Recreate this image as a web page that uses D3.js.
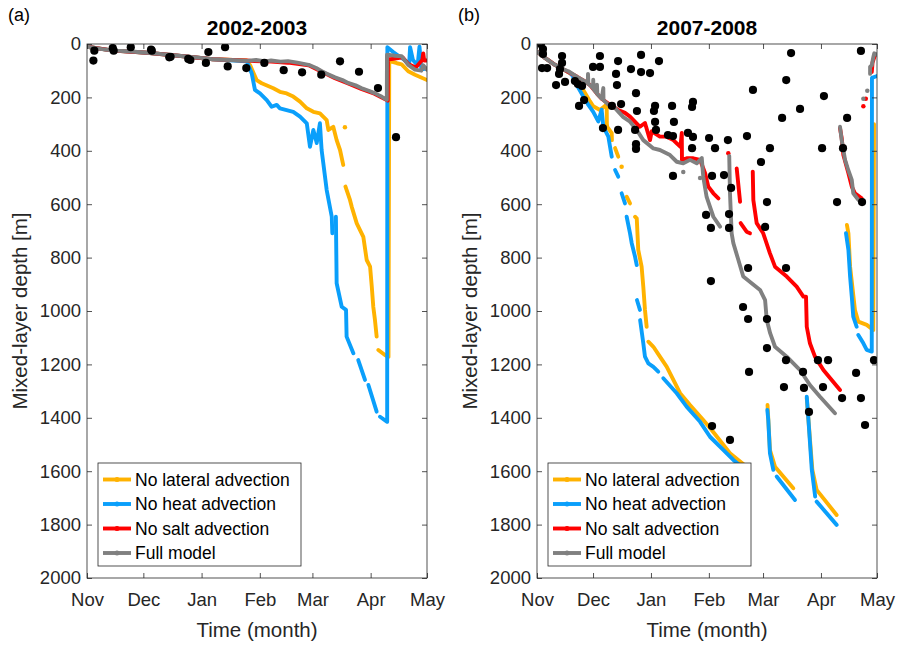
<!DOCTYPE html>
<html>
<head>
<meta charset="utf-8">
<script src="https://cdn.jsdelivr.net/npm/d3@7"></script>
<style>
  body { margin: 0; background: #fff; }
  svg { display: block; font-family: "Liberation Sans", Arial, Helvetica, sans-serif; }
</style>
</head>
<body>
<svg id="chart" width="899" height="645"></svg>
<script>
// ---- shared labels ----
const monthLabels = ["Nov", "Dec", "Jan", "Feb", "Mar", "Apr", "May"];
const depthTicks = [0, 200, 400, 600, 800, 1000, 1200, 1400, 1600, 1800, 2000];
const seriesNames = ["No lateral advection", "No heat advection", "No salt advection", "Full model"];
const seriesColors = ["#FFB200", "#0A9FFB", "#FF0000", "#808080"];
const panelTitles = ["2002-2003", "2007-2008"];
const panelTags = ["(a)", "(b)"];

// ---- 2002-2003: [days since 1 Nov, mixed-layer depth in m]; null = gap ----
const noLateralA = [
  [0,10],[14,25],[32,33],[50,45],[67,57],[85,62],[86.8,79],[90.3,135],[93,147],[99.2,166],[102.7,179],
  [106.3,185],[109.8,197],[113.4,216],[117,241],[120.5,254],[124,260],[127.6,285],[128.5,322],[131.1,310],
  [132.9,360],[134.7,397],[136.4,453],
  null,[137.3,312],
  null,[137.6,534],[140,584],[140.9,609],[143.6,672],[147.1,722],[148.9,809],[150.7,834],[151.6,909],
  [152.4,984],[153.3,1034],[154.2,1096],
  null,[155.1,1146],[158.6,1165],[160.5,1172],[160.9,60],[162.2,66],[165,72],[167.5,76],[171,102],
  [174.6,115],[181,135]
];
const noHeatA = [
  [0,10],[14,25],[32,33],[50,45],[67,57],[85,65],[87.7,110],[89.4,172],[92.1,185],[95.7,210],[98.3,235],
  [101,228],[102.7,241],[109.8,254],[113.4,272],[117,297],[118.7,385],[120.5,322],[122.3,371],[124,297],
  [124.9,397],[125.8,447],[127.6,547],[130.3,647],[130.6,709],
  null,[132.5,647],[132.9,896],[135.6,984],[137.9,996],[138.2,1096],[141.8,1158],
  null,[144.4,1184],[148,1258],
  null,[149.8,1277],[154.2,1377],
  null,[156,1396],[159.8,1415],[159.9,12],[163,30],[166,45],[169,60],[171.5,75],[172,12],[173.5,60],
  [176,80],[177,10],[178,95],[181,92]
];
const noSaltA = [
  [0,10],[14,25],[32,33],[50,45],[67,57],[85,62],[89,64],[98,66],[107,70],[118,80],[125,104],[132,128],
  [139,148],[146,168],[153,186],[160.1,212],[160.2,58],[164,55],[168,50],[171,75],[175,88],[178.5,60],
  [179,35],[179.5,62],[181,62]
];
const fullA = [
  [0,10],[7,18],[14,25],[22,27],[32,33],[40,38],[50,45],[58,50],[67,57],[76,60],[85,63],[90,60],[95,65],
  [98,62],[103,66],[107,64],[112,70],[118,78],[122,90],[125,102],[128,112],[132,125],[136,135],[139,146],
  [143,155],[146,165],[150,175],[153,184],[157,198],[159.6,209],[159.7,40],[164,44],[167.5,46],[171,78],
  [174.6,96],[178,100],[179,80],[181,96]
];
const obsA = [
  [3.9,25],[3.4,62],[13.7,15],[14.2,25],[23.3,12],[34.1,21],[34.5,25],[43.8,50],[44.5,48],[53.9,56],
  [55,60],[63.3,71],[64.6,30],[73.5,12],[74.9,84],[84.8,90],[94.4,71],[104.7,98],[114.5,106],[124.7,115],
  [134.7,65],[144.8,104],[154.9,165],[164.5,349]
];

// ---- 2007-2008 ----
const noLateralB = [
  [0,28],[4.3,52],[9.6,78],[14.1,95],[19,115],[22,140],[25,175],[28.4,215],[30.1,233],[33.7,247],
  [37.3,227],[37.4,300],[37.6,310],[40,334],[40.1,360],
  null,[41.8,390],[43.5,422],
  null,[45.3,460],
  null,[48,572],[49.8,597],
  null,[52.5,647],[53.4,653],[54.2,771],[56,834],[56.9,909],[57.8,996],[58.7,1059],
  null,[59.6,1115],[62.3,1134],[65.8,1171],[69.4,1208],[73,1258],[76.6,1308],[81.9,1352],[89,1408],
  [93.5,1446],[103.3,1533],[113,1588],
  null,[123.4,1352],[124.7,1521],[127.4,1583],[137.2,1664],
  null,[144.4,1326],[147.4,1595],[149.7,1670],[160.4,1764],
  null,[165.9,678],[166.7,709],[167.6,834],[170.2,996],[172,1040],[176.5,1052],[180,1071],[180.4,300]
];
const noHeatB = [
  [0,28],[4.3,52],[9.6,78],[14.1,95],[17.7,109],[19,118],[21.3,154],[24.8,197],[27.5,228],[30.1,254],
  [32.8,290],[34.6,246],[35.5,310],[38.2,347],[39.1,385],[40,422],
  null,[41.8,472],[43.5,497],
  null,[45.3,559],[47.1,597],
  null,[48,647],[49.8,709],[50.7,746],[52.5,797],[53.4,828],
  null,[53.5,959],[55.1,996],
  null,[55.2,1034],[56.9,1121],[57.8,1171],[59.6,1196],[62.3,1209],[64.9,1227],
  null,[67.6,1252],[74.8,1308],[80.1,1358],[87.3,1415],[92.6,1471],[99.7,1520],[105.1,1558],[109.7,1584],
  null,[123.3,1371],[123.8,1408],[124.7,1533],[126.5,1595],
  null,[128.3,1620],[138.1,1708],
  null,[144.4,1321],[145.3,1408],[147.1,1595],[148.9,1695],
  null,[149.7,1714],[160.4,1801],
  null,[165.4,709],[166.7,771],[167.6,871],[168.5,946],[169.3,1021],[171.1,1059],
  null,[172,1090],[174.7,1121],[176.5,1146],[179.2,1152],[179.3,127],[182,120]
];
const noSaltB = [
  [0,28],[4.3,52],[9.6,78],[14.1,95],[21.3,122],[25.7,140],[28.4,154],[32,185],[34.6,205],[39.1,228],
  [43.5,247],[47.1,258],[49.8,272],[55.1,310],[57.8,296],[60.5,360],[61.4,327],[65.8,347],[69.4,347],
  [73,360],[74.8,372],[76.8,385],[77.5,333],[77.6,434],[80.1,428],[83.7,428],[87.3,434],[90,484],
  [91.7,534],[94.4,559],[97.1,578],
  null,[102.4,409],
  null,[106.9,466],[108.7,591],
  null,[109,671],[112.2,703],[114,709],
  null,[115.5,478],[115.8,584],[117.6,671],[121.1,709],[124.7,784],[127.4,834],[133.7,871],[139,909],
  [142.6,946],[144,946],[144.4,1059],[146.1,1121],[148.8,1171],[153.3,1221],[162.2,1296],
  null,[162.2,315],[163.1,352],[164,416],[166.7,484],[168.5,534],[170.2,559],[173.8,578],
  null,[174.7,233],
  null,[176,205],
  null,[179.2,105],[179.6,70],[181,40]
];
const fullB = [
  [0,28],[4.3,52],[7,66],[9.6,78],[14.1,95],[16.8,102],[21.3,122],[25.7,140],[27.2,148],[27.3,112],
  [27.5,150],[28.4,154],[30,165],[30.1,134],[30.3,170],[32,185],[32.1,152],[32.3,188],[34.6,205],
  [35.5,165],[35.6,210],[38.2,227],[41.8,240],[46.2,274],[49.8,291],[53.4,322],[56.9,360],[62.3,391],
  [65.8,397],[71.2,416],[74.8,441],[78.3,447],[81.9,434],[85.5,447],[88.2,427],[89,498],[90.8,573],
  [94.4,647],[98,684],
  null,[78.3,479],
  null,[87.3,502],
  null,[102.9,419],[103.3,558],[104.2,709],[105.1,746],[107.8,809],[110.4,871],[114.9,896],[119.4,921],
  [122.1,959],[123,1034],[124.8,1083],[127.4,1134],[133.7,1171],[140.8,1221],[146.1,1277],[151.5,1321],
  [159.5,1383],
  null,[162.2,310],[163.1,360],[164.9,434],[166.6,472],[168.5,509],[169.3,559],[172,584],
  null,[174.7,205],
  null,[176.8,175],
  null,[178.3,112],[178.3,85],[179.2,80],[180,50],[180.5,35],[182,40]
];
const obsB = [
  [2.1,0],[3.2,19],[3.2,37],[2.7,90],[5.4,90],[13.4,45],[13.4,71],[12.3,94],[11.8,112],[10.2,154],
  [15,142],[20.3,139],[21.9,150],[24.1,157],[25.2,210],[22.5,232],[30,86],[33.7,45],[33.7,86],[35.3,315],
  [40.1,232],[42.3,112],[43.4,64],[42.8,154],[45,225],[43.4,322],[50.3,94],[53,184],[53.5,251],[52.5,322],
  [53,375],[53,393],[55.7,41],[55.7,105],[60.5,109],[65.3,64],[62.6,251],[63.2,232],[63.2,292],[63.7,322],
  [72.8,494],[72.3,232],[73.3,292],[70.1,341],[72.8,345],[83.5,217],[83,236],[80.8,333],[83.5,348],[83,390],
  [93.7,494],[92.1,352],[95.3,390],[100.1,491],[102.2,360],[103.9,539],[112.4,345],[115.6,172],[124.7,390],
  [123.1,592],[131.2,277],[133.4,135],[136,34],[140.8,243],[153.6,195],[152.6,390],[160.6,592],[163.8,390],
  [166,277],[173.4,26],[174,592],[90.5,640],[93.1,689],[102.8,637],[102.8,689],[122.1,685],[113,839],
  [133.3,839],[93.1,888],[110.3,985],[113,1030],[123.1,1030],[123.1,1139],[133.3,1184],[113.5,1228],
  [142.4,1228],[150.4,1184],[155.8,1184],[132.2,1285],[142.9,1288],[153.1,1285],[163.3,1326],[173.4,1326],
  [170.8,1232],[180.4,1184],[145.6,1378],[175.6,1427],[93.7,1431],[103.3,1483],[119.9,442]
];

const panels = [
  { left: 87,  start: Date.UTC(2002, 10, 1), end: Date.UTC(2003, 4, 1),
    series: [noLateralA, noHeatA, noSaltA, fullA], obs: obsA },
  { left: 537, start: Date.UTC(2007, 10, 1), end: Date.UTC(2008, 4, 1),
    series: [noLateralB, noHeatB, noSaltB, fullB], obs: obsB }
];

const svg = d3.select("#chart");
const W = 340, TOP = 44, BOTTOM = 578;
const axisColor = "#262626";
const LINE_W = 3.9;

function segments(arr) {
  const out = [];
  let cur = [];
  arr.forEach(p => {
    if (p === null) { if (cur.length) out.push(cur); cur = []; }
    else cur.push(p);
  });
  if (cur.length) out.push(cur);
  return out;
}

panels.forEach((p, pi) => {
  const right = p.left + W;
  const x = d3.scaleUtc().domain([new Date(p.start), new Date(p.end)]).range([p.left, right]);
  const y = d3.scaleLinear().domain([0, 2000]).range([TOP, BOTTOM]);
  const dayToDate = d => new Date(p.start + d * 864e5);
  const g = svg.append("g");

  const clipId = "clip" + pi;
  svg.append("clipPath").attr("id", clipId)
    .append("rect").attr("x", p.left).attr("y", TOP).attr("width", W).attr("height", BOTTOM - TOP);

  const plot = g.append("g").attr("clip-path", `url(#${clipId})`);
  const line = d3.line().x(d => x(dayToDate(d[0]))).y(d => y(d[1]));

  // model runs
  p.series.forEach((s, si) => {
    segments(s).forEach(seg => {
      if (seg.length === 1) {
        plot.append("circle")
          .attr("cx", x(dayToDate(seg[0][0]))).attr("cy", y(seg[0][1]))
          .attr("r", LINE_W / 2 + 0.3).attr("fill", seriesColors[si]);
      } else {
        plot.append("path").datum(seg)
          .attr("d", line)
          .attr("fill", "none")
          .attr("stroke", seriesColors[si])
          .attr("stroke-width", LINE_W)
          .attr("stroke-linejoin", "round")
          .attr("stroke-linecap", "round");
      }
    });
  });

  // observed mixed-layer depths
  plot.selectAll("circle.obs").data(p.obs).join("circle")
    .attr("class", "obs")
    .attr("cx", d => x(dayToDate(d[0])))
    .attr("cy", d => y(d[1]))
    .attr("r", 4.1)
    .attr("fill", "#000");

  // axes (ticks point inward on all four sides)
  const monthDates = d3.utcMonth.range(new Date(p.start), new Date(p.end + 1));
  const styleAxis = sel => {
    sel.select(".domain").remove();
    sel.selectAll("line").attr("stroke", axisColor).attr("stroke-width", 0.8);
    sel.selectAll("text").attr("fill", axisColor).attr("font-size", 18.5)
      .attr("font-family", '"Liberation Sans", Arial, sans-serif');
  };
  g.append("g").attr("transform", `translate(0,${BOTTOM})`)
    .call(d3.axisBottom(x).tickValues(monthDates).tickFormat((d, i) => monthLabels[i])
      .tickSizeInner(-5).tickSizeOuter(0).tickPadding(15))
    .call(styleAxis);
  g.append("g").attr("transform", `translate(0,${TOP})`)
    .call(d3.axisTop(x).tickValues(monthDates).tickFormat("")
      .tickSizeInner(-5).tickSizeOuter(0))
    .call(styleAxis);
  g.append("g").attr("transform", `translate(${p.left},0)`)
    .call(d3.axisLeft(y).tickValues(depthTicks).tickFormat(d3.format("d"))
      .tickSizeInner(-5).tickSizeOuter(0).tickPadding(6))
    .call(styleAxis);
  g.append("g").attr("transform", `translate(${right},0)`)
    .call(d3.axisRight(y).tickValues(depthTicks).tickFormat("")
      .tickSizeInner(-5).tickSizeOuter(0))
    .call(styleAxis);

  g.append("rect")
    .attr("x", p.left).attr("y", TOP).attr("width", W).attr("height", BOTTOM - TOP)
    .attr("fill", "none").attr("stroke", axisColor).attr("stroke-width", 0.8);

  // titles and labels
  g.append("text").attr("x", p.left + W / 2).attr("y", 35)
    .attr("text-anchor", "middle").attr("font-weight", "bold").attr("font-size", 21)
    .attr("fill", "#000").text(panelTitles[pi]);
  g.append("text").attr("x", p.left - 79).attr("y", 21)
    .attr("font-size", 18).attr("fill", "#000").text(panelTags[pi]);
  g.append("text").attr("x", p.left + W / 2).attr("y", 637)
    .attr("text-anchor", "middle").attr("font-size", 20.5).attr("fill", axisColor)
    .text("Time (month)");
  g.append("text")
    .attr("transform", `translate(${p.left - 60},${(TOP + BOTTOM) / 2}) rotate(-90)`)
    .attr("text-anchor", "middle").attr("font-size", 20.5).attr("fill", axisColor)
    .text("Mixed-layer depth [m]");

  // legend
  const lx = p.left + 11, ly = 463;
  const leg = g.append("g");
  leg.append("rect").attr("x", lx).attr("y", ly).attr("width", 203).attr("height", 103)
    .attr("fill", "#fff").attr("stroke", axisColor).attr("stroke-width", 0.8);
  seriesNames.forEach((name, i) => {
    const cy = ly + 16.5 + i * 24.5;
    leg.append("line").attr("x1", lx + 5).attr("x2", lx + 33).attr("y1", cy).attr("y2", cy)
      .attr("stroke", seriesColors[i]).attr("stroke-width", LINE_W);
    leg.append("circle").attr("cx", lx + 19).attr("cy", cy).attr("r", 2.5).attr("fill", seriesColors[i]);
    leg.append("text").attr("x", lx + 37).attr("y", cy).attr("dy", "0.35em")
      .attr("font-size", 17.5).attr("fill", "#000").text(name);
  });
});
</script>
</body>
</html>
